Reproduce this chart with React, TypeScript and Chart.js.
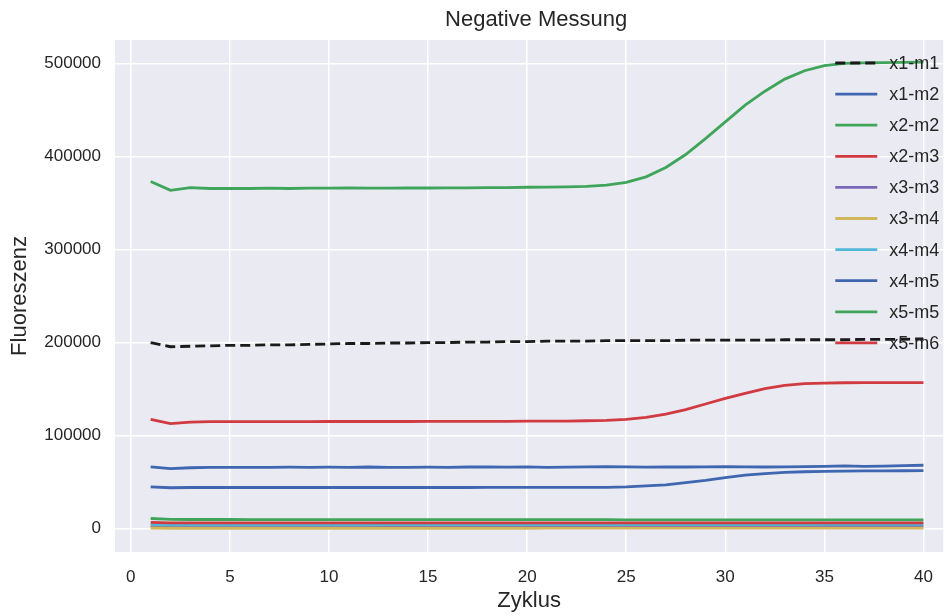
import { useEffect, useRef } from "react";
import { Chart, registerables } from "chart.js";

Chart.register(...registerables);

const cycles = [1, 2, 3, 4, 5, 6, 7, 8, 9, 10, 11, 12, 13, 14, 15, 16, 17, 18, 19, 20, 21, 22, 23, 24, 25, 26, 27, 28, 29, 30, 31, 32, 33, 34, 35, 36, 37, 38, 39, 40];
const xTicks = [0, 5, 10, 15, 20, 25, 30, 35, 40];
const yTicks = [0, 100000, 200000, 300000, 400000, 500000];

const chartTitle = "Negative Messung";
const xTitle = "Zyklus";
const yTitle = "Fluoreszenz";

const seriesNames = ["x1-m1", "x1-m2", "x2-m2", "x2-m3", "x3-m3", "x3-m4", "x4-m4", "x4-m5", "x5-m5", "x5-m6"];

const x1m1 = [200000, 195500, 196000, 196500, 197000, 197000, 197500, 197500, 198000, 198500, 199000, 199000, 199500, 199500, 200000, 200000, 200500, 200500, 201000, 201000, 201500, 201500, 201500, 202000, 202000, 202000, 202000, 202500, 202500, 202500, 202500, 202500, 203000, 203000, 203000, 203000, 203500, 203500, 203500, 204000];
const x1m2 = [66500, 64500, 65500, 65800, 66000, 65800, 66000, 66200, 66000, 66200, 66000, 66300, 65800, 66000, 66200, 66000, 66300, 66500, 66200, 66500, 66000, 66200, 66500, 66800, 66500, 66200, 66500, 66300, 66500, 66800, 66500, 66300, 66500, 66800, 67000, 67500, 67000, 67200, 67800, 68200];
const x2m2 = [373000, 363500, 366500, 365500, 365500, 365500, 365800, 365500, 365800, 365800, 366000, 365800, 365800, 366000, 366000, 366200, 366200, 366500, 366500, 366800, 367000, 367200, 367800, 369000, 372000, 378000, 388000, 402000, 419000, 437000, 455000, 470000, 483000, 492000, 497500, 499800, 500500, 500800, 501000, 501200];
const x2m3 = [117500, 113000, 114500, 115000, 115000, 115000, 115000, 115000, 115000, 115200, 115200, 115200, 115200, 115200, 115300, 115300, 115300, 115400, 115400, 115500, 115500, 115600, 116000, 116500, 117500, 119500, 123000, 128000, 134000, 140000, 145500, 150500, 154000, 155800, 156500, 156800, 157000, 157000, 157000, 157000];
const x3m3 = [2500, 2000, 2000, 2000, 2000, 2000, 2000, 2000, 2000, 2000, 2000, 2000, 2000, 2000, 2000, 2100, 2100, 2100, 2100, 2100, 2100, 2100, 2100, 2200, 2200, 2200, 2200, 2200, 2200, 2300, 2300, 2300, 2300, 2300, 2400, 2400, 2400, 2400, 2500, 2500];
const x3m4 = [800, 500, 500, 500, 500, 500, 500, 500, 500, 500, 500, 500, 500, 500, 500, 500, 500, 500, 500, 500, 600, 600, 600, 600, 600, 600, 600, 600, 600, 600, 700, 700, 700, 700, 700, 700, 700, 700, 700, 700];
const x4m4 = [4600, 4100, 4200, 4200, 4200, 4200, 4200, 4200, 4200, 4200, 4200, 4200, 4300, 4300, 4300, 4300, 4300, 4300, 4300, 4300, 4300, 4400, 4400, 4400, 4400, 4400, 4400, 4400, 4500, 4500, 4500, 4500, 4500, 4500, 4600, 4600, 4600, 4700, 4700, 4800];
const x4m5 = [45000, 44000, 44300, 44300, 44300, 44300, 44300, 44300, 44300, 44300, 44300, 44300, 44300, 44300, 44300, 44300, 44300, 44400, 44400, 44400, 44400, 44400, 44400, 44500, 45000, 46000, 47200, 49500, 52000, 55000, 57500, 59200, 60500, 61200, 61600, 61900, 62100, 62200, 62300, 62400];
const x5m5 = [11000, 10000, 9900, 9900, 9900, 9800, 9800, 9800, 9800, 9800, 9800, 9800, 9800, 9800, 9700, 9700, 9700, 9700, 9700, 9700, 9700, 9700, 9700, 9700, 9600, 9600, 9600, 9600, 9600, 9600, 9600, 9600, 9600, 9500, 9500, 9500, 9500, 9500, 9500, 9500];
const x5m6 = [6800, 6200, 6300, 6300, 6300, 6300, 6300, 6300, 6300, 6300, 6300, 6300, 6300, 6300, 6300, 6300, 6300, 6300, 6300, 6300, 6300, 6300, 6300, 6300, 6300, 6300, 6300, 6300, 6300, 6300, 6300, 6300, 6300, 6300, 6300, 6300, 6300, 6300, 6300, 6300];

const seriesValues = [x1m1, x1m2, x2m2, x2m3, x3m3, x3m4, x4m4, x4m5, x5m5, x5m6];
const seriesColors = ["#1a1a1a", "#3F66B0", "#3FA55A", "#D03A40", "#7A68B8", "#D2B65A", "#4FB8D6", "#3F66B0", "#3FA55A", "#D03A40"];

const FONT = "'Liberation Sans', Arial, sans-serif";
const TEXT = "#262626";

const decorPlugin = {
  id: "decor",
  beforeDraw(chart: any) {
    const { ctx, chartArea } = chart;
    ctx.save();
    ctx.fillStyle = "#ffffff";
    ctx.fillRect(0, 0, chart.width, chart.height);
    ctx.fillStyle = "#EAEAF2";
    ctx.fillRect(chartArea.left, chartArea.top, chartArea.right - chartArea.left, chartArea.bottom - chartArea.top);
    ctx.restore();
  },
  afterDatasetsDraw(chart: any) {
    const { ctx, chartArea } = chart;
    ctx.save();
    // title
    ctx.fillStyle = TEXT;
    ctx.font = `22px ${FONT}`;
    ctx.textAlign = "center";
    ctx.textBaseline = "middle";
    ctx.fillText(chartTitle, (chartArea.left + chartArea.right) / 2 + 7, 20);
    // legend
    const ds = chart.data.datasets;
    const x0 = chartArea.right - 108;
    const top = chartArea.top + 23;
    ds.forEach((d: any, i: number) => {
      const y = top + i * 31.1;
      ctx.beginPath();
      ctx.strokeStyle = d.borderColor;
      ctx.lineWidth = d.borderWidth;
      ctx.setLineDash(d.borderDash || []);
      ctx.moveTo(x0, y);
      ctx.lineTo(x0 + 42, y);
      ctx.stroke();
      ctx.setLineDash([]);
      ctx.fillStyle = TEXT;
      ctx.font = `18px ${FONT}`;
      ctx.textAlign = "left";
      ctx.textBaseline = "middle";
      ctx.fillText(d.label, x0 + 54, y + 1);
    });
    ctx.restore();
  },
};

export default function App() {
  const ref = useRef<HTMLCanvasElement | null>(null);
  useEffect(() => {
    document.body.style.margin = "0";
    const canvas = ref.current!;
    const chart = new Chart(canvas, {
      type: "line",
      data: {
        datasets: seriesNames.map((name, i) => ({
          label: name,
          data: cycles.map((c, j) => ({ x: c, y: seriesValues[i][j] })),
          borderColor: seriesColors[i],
          backgroundColor: seriesColors[i],
          borderWidth: 2.8,
          borderDash: i === 0 ? [10, 5] : [],
          pointRadius: 0,
          tension: 0,
          fill: false,
          order: seriesNames.length - i,
        })),
      },
      options: {
        animation: false,
        responsive: false,
        maintainAspectRatio: false,
        layout: { padding: { top: 40, right: 4, left: 0, bottom: 0 } },
        plugins: {
          legend: { display: false },
          title: { display: false },
          tooltip: { enabled: false },
        },
        scales: {
          x: {
            type: "linear",
            min: -0.8,
            max: 41,
            afterBuildTicks: (s: any) => {
              s.ticks = xTicks.map((v) => ({ value: v }));
            },
            afterFit: (s: any) => {
              s.height = 64;
            },
            grid: { color: "#ffffff", lineWidth: 1.5, drawTicks: false },
            border: { display: false },
            ticks: { color: TEXT, font: { family: FONT, size: 17 }, padding: 15, maxRotation: 0 },
            title: { display: true, text: xTitle, color: TEXT, font: { family: FONT, size: 22 }, padding: { top: 0, bottom: 2 } },
          },
          y: {
            type: "linear",
            min: -25000,
            max: 525000,
            afterBuildTicks: (s: any) => {
              s.ticks = yTicks.map((v) => ({ value: v }));
            },
            afterFit: (s: any) => {
              s.width = 115;
            },
            grid: { color: "#ffffff", lineWidth: 1.5, drawTicks: false },
            border: { display: false },
            ticks: { color: TEXT, font: { family: FONT, size: 17 }, padding: 14, callback: (v: any) => String(v) },
            title: { display: true, text: yTitle, color: TEXT, font: { family: FONT, size: 22 }, padding: { top: 7, bottom: 0 } },
          },
        },
      },
      plugins: [decorPlugin],
    });
    return () => chart.destroy();
  }, []);
  return (
    <div style={{ position: "fixed", left: 0, top: 0, width: 948, height: 616 }}>
      <canvas ref={ref} width={948} height={616} style={{ width: 948, height: 616, display: "block" }} />
    </div>
  );
}
